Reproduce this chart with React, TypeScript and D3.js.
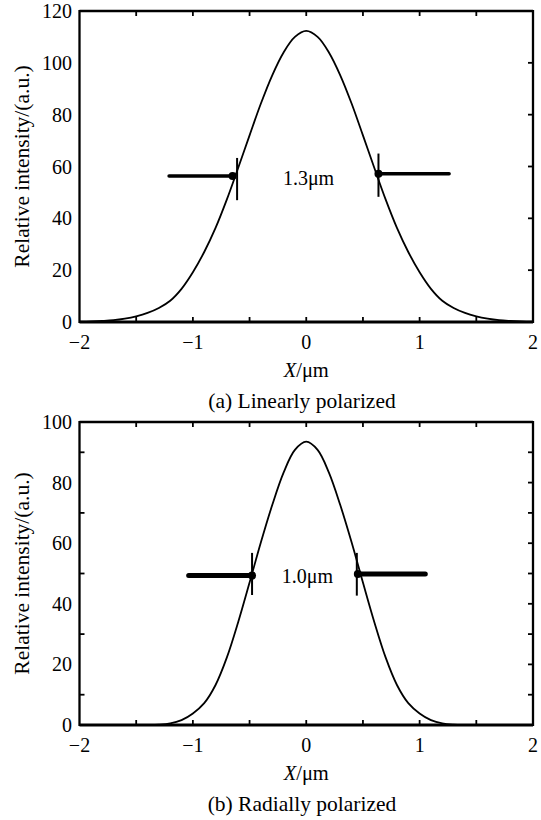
import React from "react";
import * as d3 from "d3";

// ---------- data ----------
const xs = [
  -2.0, -1.9, -1.8, -1.7, -1.6, -1.5, -1.4, -1.3, -1.2, -1.1, -1.0, -0.9, -0.8, -0.7, -0.6, -0.5, -0.4, -0.3, -0.2, -0.1,
  0.0, 0.1, 0.2, 0.3, 0.4, 0.5, 0.6, 0.7, 0.8, 0.9, 1.0, 1.1, 1.2, 1.3, 1.4, 1.5, 1.6, 1.7, 1.8, 1.9, 2.0,
];
const linearIntensity = [
  0.1, 0.2, 0.4, 0.7, 1.3, 2.2, 3.5, 5.4, 8.2, 12.8, 19.2, 27.0, 36.3, 47.3, 59.5, 72.0, 84.3, 95.2, 104.0, 110.0,
  112.3, 110.0, 104.0, 95.2, 84.3, 72.0, 59.5, 47.3, 36.3, 27.0, 19.2, 12.8, 8.2, 5.4, 3.5, 2.2, 1.3, 0.7, 0.4, 0.2, 0.1,
];
const radialIntensity = [
  0, 0, 0, 0, 0, 0, 0, 0.1, 0.5, 1.6, 3.8, 7.2, 13.2, 22.3, 34.0, 47.0, 60.3, 72.6, 83.3, 90.8,
  93.5, 90.8, 83.3, 72.6, 60.3, 47.0, 34.0, 22.3, 13.2, 7.2, 3.8, 1.6, 0.5, 0.1, 0, 0, 0, 0, 0, 0, 0,
];

const xTicks = [-2, -1, 0, 1, 2];
const xMinorTicks = [-1.5, -1, -0.5, 0, 0.5, 1, 1.5];
const yTicksA = [0, 20, 40, 60, 80, 100, 120];
const yTicksB = [0, 20, 40, 60, 80, 100];
const rightTicksA = [20, 40, 60, 80, 100];
const rightTicksB = [10, 20, 30, 40, 50, 60, 70, 80, 90];
const leftTicksB = [10, 30, 50, 70, 90];

// FWHM marker annotations: [y, arrowFromX, dotX, barX, barY0, barY1]
const markersA = [
  [56.3, -1.21, -0.65, -0.61, 47, 63.3],
  [57.2, 1.26, 0.637, 0.637, 48.3, 65],
];
const markersB = [
  [49.3, -1.037, -0.478, -0.478, 42.9, 56.8],
  [49.8, 1.05, 0.455, 0.446, 42.7, 56.8],
];
const labelA = { text: "1.3μm", x: 0.02, y: 52.9 };
const labelB = { text: "1.0μm", x: 0.01, y: 46.9 };

const FONT = "'Liberation Serif', 'Times New Roman', 'DejaVu Serif', serif";

type PanelProps = {
  top: number;
  bottom: number;
  yMax: number;
  yTicks: number[];
  rightTicks: number[];
  leftTicks: number[];
  values: number[];
  markers: number[][];
  label: { text: string; x: number; y: number };
  caption: string;
  hThick: number;
};

function Panel(p: PanelProps) {
  const left = 79.5;
  const right = 533;
  const x = d3.scaleLinear().domain([-2, 2]).range([left, right]);
  const y = d3.scaleLinear().domain([0, p.yMax]).range([p.bottom, p.top]);
  const pts = xs.map((v, i) => [v, p.values[i]] as [number, number]);
  const line = d3
    .line<[number, number]>()
    .x((d) => x(d[0]))
    .y((d) => y(d[1]))
    .curve(d3.curveCatmullRom.alpha(0.5));
  const tl = 5;
  const midY = (p.top + p.bottom) / 2;
  return (
    <g fontFamily={FONT} fill="#000">
      <path d={line(pts) || ""} fill="none" stroke="#000" strokeWidth={1.8} />
      {/* frame */}
      <line x1={left} x2={left} y1={p.top - 1} y2={p.bottom + 1} stroke="#000" strokeWidth={2.3} />
      <line x1={right} x2={right} y1={p.top - 1} y2={p.bottom + 1} stroke="#000" strokeWidth={2.3} />
      <line x1={left} x2={right} y1={p.top} y2={p.top} stroke="#000" strokeWidth={2.3} />
      <line x1={left} x2={right} y1={p.bottom} y2={p.bottom} stroke="#000" strokeWidth={3} />
      {/* ticks */}
      {xMinorTicks.map((t) => (
        <g key={"xt" + t}>
          <line x1={x(t)} x2={x(t)} y1={p.bottom} y2={p.bottom - tl} stroke="#000" strokeWidth={1.8} />
          <line x1={x(t)} x2={x(t)} y1={p.top} y2={p.top + tl} stroke="#000" strokeWidth={1.8} />
        </g>
      ))}
      {p.rightTicks.map((t) => (
        <line key={"rt" + t} x1={right} x2={right - tl} y1={y(t)} y2={y(t)} stroke="#000" strokeWidth={1.8} />
      ))}
      {p.leftTicks.map((t) => (
        <line key={"lt" + t} x1={left} x2={left + tl} y1={y(t)} y2={y(t)} stroke="#000" strokeWidth={1.8} />
      ))}
      {/* tick labels */}
      {xTicks.map((t) => (
        <text key={"xl" + t} x={x(t)} y={p.bottom + 27} fontSize={20} textAnchor="middle">
          {t < 0 ? "\u2212" + Math.abs(t) : String(t)}
        </text>
      ))}
      {p.yTicks.map((t) => (
        <text key={"yl" + t} x={72} y={y(t) + 7} fontSize={20} textAnchor="end">
          {t}
        </text>
      ))}
      {/* axis titles */}
      <text x={x(0)} y={p.bottom + 55} fontSize={20.5} textAnchor="middle">
        <tspan fontStyle="italic">X</tspan>/μm
      </text>
      <text transform={`translate(29,${midY}) rotate(-90)`} fontSize={21.5} textAnchor="middle">
        Relative intensity/(a.u.)
      </text>
      <text x={302} y={p.bottom + 86} fontSize={21.5} textAnchor="middle">
        {p.caption}
      </text>
      {/* FWHM markers */}
      {p.markers.map((m, i) => (
        <g key={"m" + i}>
          <line
            x1={x(m[1])}
            x2={x(m[2])}
            y1={y(m[0])}
            y2={y(m[0])}
            stroke="#000"
            strokeWidth={p.hThick}
            strokeLinecap="round"
          />
          <circle cx={x(m[2])} cy={y(m[0])} r={4} fill="#000" />
          <line x1={x(m[3])} x2={x(m[3])} y1={y(m[4])} y2={y(m[5])} stroke="#000" strokeWidth={2} />
        </g>
      ))}
      <text x={x(p.label.x)} y={y(p.label.y)} fontSize={20} textAnchor="middle">
        {p.label.text}
      </text>
    </g>
  );
}

export default function App() {
  return (
    <svg width={541} height={820} style={{ position: "absolute", left: 0, top: 0, background: "#fff" }}>
      <rect width={541} height={820} fill="#fff" />
      <Panel
        top={11}
        bottom={322}
        yMax={120}
        yTicks={yTicksA}
        rightTicks={rightTicksA}
        leftTicks={[]}
        values={linearIntensity}
        markers={markersA}
        label={labelA}
        caption="(a) Linearly polarized"
        hThick={3.5}
      />
      <Panel
        top={422}
        bottom={725}
        yMax={100}
        yTicks={yTicksB}
        rightTicks={rightTicksB}
        leftTicks={leftTicksB}
        values={radialIntensity}
        markers={markersB}
        label={labelB}
        caption="(b) Radially polarized"
        hThick={5}
      />
    </svg>
  );
}
